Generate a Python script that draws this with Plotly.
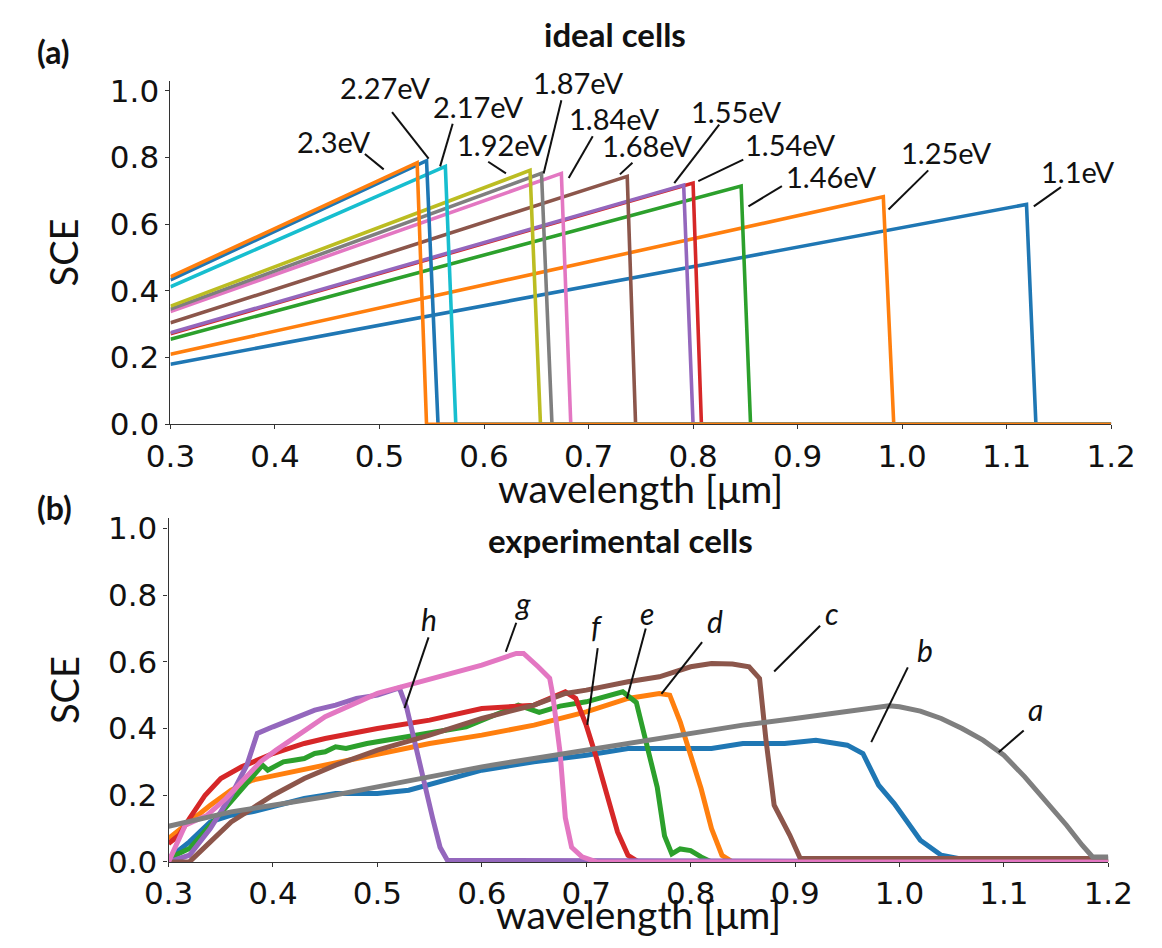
import plotly.graph_objects as go

# ---------------- data: (a) ideal cells ----------------
ideal_labels = ["1.1eV", "1.25eV", "1.46eV", "1.54eV", "1.55eV", "1.68eV",
                "1.84eV", "1.87eV", "1.92eV", "2.17eV", "2.27eV", "2.3eV"]
ideal_peak_x = [1.119, 0.982, 0.846, 0.800, 0.791, 0.737, 0.674, 0.655, 0.644, 0.563, 0.545, 0.536]
ideal_zero_x = [1.128, 0.992, 0.855, 0.808, 0.800, 0.745, 0.683, 0.665, 0.654, 0.573, 0.556, 0.545]
ideal_start_y = [0.180, 0.210, 0.255, 0.271, 0.274, 0.304, 0.338, 0.345, 0.354, 0.412, 0.433, 0.442]
ideal_peak_y = [0.659, 0.682, 0.714, 0.723, 0.717, 0.743, 0.752, 0.752, 0.761, 0.773, 0.790, 0.784]
x_start = 0.3
x_end = 1.2

# ---------------- data: (b) experimental cells ----------------
exp_a_x = [0.30, 0.33, 0.36, 0.40, 0.45, 0.50, 0.55, 0.60, 0.65, 0.70, 0.75, 0.80, 0.85, 0.90, 0.95,
           0.975, 0.99, 1.00, 1.02, 1.04, 1.06, 1.08, 1.10, 1.12, 1.14, 1.16, 1.175, 1.185, 1.20]
exp_a_y = [0.107, 0.13, 0.15, 0.17, 0.195, 0.225, 0.255, 0.285, 0.31, 0.335, 0.36, 0.385, 0.41, 0.43, 0.452,
           0.462, 0.468, 0.465, 0.452, 0.43, 0.40, 0.365, 0.32, 0.255, 0.185, 0.11, 0.05, 0.015, 0.015]

exp_b_x = [0.30, 0.32, 0.34, 0.36, 0.38, 0.40, 0.43, 0.46, 0.50, 0.53, 0.56, 0.60, 0.65, 0.70, 0.74,
           0.78, 0.82, 0.85, 0.89, 0.92, 0.95, 0.965, 0.98, 0.995, 1.02, 1.04, 1.06, 1.20]
exp_b_y = [0.01, 0.06, 0.12, 0.14, 0.15, 0.165, 0.19, 0.205, 0.205, 0.215, 0.24, 0.275, 0.30, 0.32, 0.34,
           0.34, 0.34, 0.355, 0.355, 0.365, 0.35, 0.325, 0.23, 0.175, 0.065, 0.02, 0.008, 0.008]

exp_c_x = [0.30, 0.32, 0.34, 0.36, 0.38, 0.40, 0.43, 0.46, 0.50, 0.55, 0.60, 0.65, 0.68, 0.70, 0.74,
           0.77, 0.80, 0.82, 0.84, 0.856, 0.866, 0.872, 0.88, 0.895, 0.905, 1.20]
exp_c_y = [0.0, 0.0, 0.06, 0.12, 0.16, 0.20, 0.25, 0.29, 0.335, 0.38, 0.43, 0.47, 0.505, 0.515, 0.54,
           0.555, 0.585, 0.595, 0.593, 0.585, 0.55, 0.37, 0.17, 0.08, 0.01, 0.01]

exp_d_x = [0.30, 0.32, 0.34, 0.36, 0.38, 0.40, 0.45, 0.50, 0.55, 0.60, 0.65, 0.70, 0.74, 0.77, 0.78,
           0.79, 0.80, 0.81, 0.82, 0.83, 0.84, 1.20]
exp_d_y = [0.07, 0.12, 0.17, 0.215, 0.245, 0.258, 0.29, 0.325, 0.355, 0.38, 0.41, 0.45, 0.49, 0.505, 0.50,
           0.42, 0.32, 0.22, 0.10, 0.02, 0.0, 0.0]

exp_e_x = [0.30, 0.32, 0.34, 0.36, 0.38, 0.39, 0.395, 0.41, 0.42, 0.43, 0.44, 0.45, 0.46, 0.47, 0.49,
           0.50, 0.52, 0.55, 0.585, 0.62, 0.635, 0.655, 0.675, 0.70, 0.72, 0.735, 0.748, 0.757, 0.768,
           0.775, 0.782, 0.79, 0.80, 0.81, 0.82, 1.20]
exp_e_y = [0.01, 0.04, 0.11, 0.18, 0.25, 0.29, 0.275, 0.30, 0.305, 0.31, 0.325, 0.33, 0.345, 0.34, 0.355,
           0.36, 0.37, 0.385, 0.405, 0.45, 0.47, 0.448, 0.467, 0.48, 0.495, 0.51, 0.478, 0.37, 0.224,
           0.078, 0.024, 0.039, 0.034, 0.015, 0.0, 0.0]

exp_f_x = [0.30, 0.31, 0.32, 0.335, 0.35, 0.37, 0.40, 0.43, 0.45, 0.50, 0.55, 0.60, 0.65, 0.68, 0.69,
           0.70, 0.71, 0.72, 0.73, 0.74, 0.75, 1.20]
exp_f_y = [0.055, 0.08, 0.13, 0.20, 0.25, 0.285, 0.325, 0.355, 0.37, 0.40, 0.425, 0.46, 0.47, 0.51, 0.49,
           0.41, 0.31, 0.20, 0.09, 0.02, 0.0, 0.0]

exp_g_x = [0.30, 0.316, 0.337, 0.355, 0.373, 0.388, 0.403, 0.428, 0.45, 0.50, 0.55, 0.60, 0.633, 0.64,
           0.654, 0.665, 0.668, 0.675, 0.68, 0.686, 0.696, 0.71, 1.20]
exp_g_y = [0.0, 0.11, 0.14, 0.19, 0.25, 0.30, 0.335, 0.39, 0.435, 0.505, 0.546, 0.59, 0.625, 0.625,
           0.585, 0.551, 0.50, 0.327, 0.132, 0.044, 0.015, 0.0, 0.0]

exp_h_x = [0.30, 0.32, 0.34, 0.36, 0.375, 0.385, 0.40, 0.42, 0.44, 0.46, 0.48, 0.50, 0.521, 0.528,
           0.535, 0.546, 0.553, 0.56, 0.567, 1.20]
exp_h_y = [0.0, 0.02, 0.10, 0.20, 0.29, 0.385, 0.405, 0.43, 0.455, 0.47, 0.49, 0.50, 0.522, 0.463,
           0.366, 0.229, 0.13, 0.044, 0.005, 0.0]

exp_labels = ["a", "b", "c", "d", "e", "f", "g", "h"]

x_ticks = [0.3, 0.4, 0.5, 0.6, 0.7, 0.8, 0.9, 1.0, 1.1, 1.2]
y_ticks = [0.0, 0.2, 0.4, 0.6, 0.8, 1.0]

# ---------------- styles ----------------
C = {"C0": "#1f77b4", "C1": "#ff7f0e", "C2": "#2ca02c", "C3": "#d62728", "C4": "#9467bd",
     "C5": "#8c564b", "C6": "#e377c2", "C7": "#7f7f7f", "C8": "#bcbd22", "C9": "#17becf"}
ideal_colors = [C["C0"], C["C1"], C["C2"], C["C3"], C["C4"], C["C5"],
                C["C6"], C["C7"], C["C8"], C["C9"], C["C0"], C["C1"]]
exp_series = {
    "b": (exp_b_x, exp_b_y, C["C0"]),
    "d": (exp_d_x, exp_d_y, C["C1"]),
    "e": (exp_e_x, exp_e_y, C["C2"]),
    "f": (exp_f_x, exp_f_y, C["C3"]),
    "h": (exp_h_x, exp_h_y, C["C4"]),
    "c": (exp_c_x, exp_c_y, C["C5"]),
    "g": (exp_g_x, exp_g_y, C["C6"]),
    "a": (exp_a_x, exp_a_y, C["C7"]),
}

W, H = 1162, 948
TEXT_FONT = "Lato"
TICK_FONT = "DejaVu Sans"

fig = go.Figure()

# (a) ideal cells
for lab, px_, zx, sy, py_, col in zip(ideal_labels, ideal_peak_x, ideal_zero_x,
                                      ideal_start_y, ideal_peak_y, ideal_colors):
    fig.add_trace(go.Scatter(x=[x_start, px_, zx, x_end], y=[sy, py_, 0.0, 0.0],
                             mode="lines", line=dict(color=col, width=3.6),
                             name=lab, showlegend=False, xaxis="x", yaxis="y",
                             hoverinfo="skip"))

# (b) experimental cells
for lab, (xs, ys, col) in exp_series.items():
    fig.add_trace(go.Scatter(x=xs, y=ys, mode="lines", line=dict(color=col, width=5),
                             name=lab, showlegend=False, xaxis="x2", yaxis="y2",
                             hoverinfo="skip"))

# ---------------- annotations (layout positions) ----------------
top_label_pos = {
    "1.1eV": ((1.168, 0.758), (1.152, 0.711, 1.126, 0.653)),
    "1.25eV": ((1.042, 0.816), (1.025, 0.761, 0.987, 0.644)),
    "1.46eV": ((0.932, 0.743), (0.885, 0.714, 0.853, 0.653)),
    "1.54eV": ((0.893, 0.840), (0.848, 0.793, 0.805, 0.729)),
    "1.55eV": ((0.841, 0.939), (0.825, 0.898, 0.782, 0.723)),
    "1.68eV": ((0.756, 0.837), (0.742, 0.784, 0.730, 0.749)),
    "1.84eV": ((0.724, 0.918), (0.704, 0.863, 0.681, 0.738)),
    "1.87eV": ((0.690, 1.023), (0.674, 0.971, 0.657, 0.752)),
    "1.92eV": ((0.617, 0.840), (0.604, 0.787, 0.621, 0.752)),
    "2.17eV": ((0.594, 0.953), (0.570, 0.901, 0.558, 0.773)),
    "2.27eV": ((0.505, 1.009), (0.512, 0.936, 0.547, 0.796)),
    "2.3eV": ((0.4566, 0.848), (0.486, 0.810, 0.504, 0.764)),
}
bot_label_pos = {
    "a": ((1.130, 0.458), (1.119, 0.394, 1.095, 0.329)),
    "b": ((1.024, 0.636), (1.008, 0.583, 0.973, 0.359)),
    "c": ((0.935, 0.746), (0.924, 0.708, 0.880, 0.571)),
    "d": ((0.823, 0.723), (0.811, 0.659, 0.772, 0.504)),
    "e": ((0.758, 0.746), (0.757, 0.700, 0.739, 0.490)),
    "f": ((0.710, 0.706), (0.711, 0.641, 0.701, 0.411)),
    "g": ((0.639, 0.776), (0.633, 0.717, 0.623, 0.630)),
    "h": ((0.549, 0.729), (0.549, 0.673, 0.526, 0.461)),
}

annotations = []
shapes = []
for lab in ideal_labels:
    (tx, ty), (x0, y0, x1, y1) = top_label_pos[lab]
    annotations.append(dict(x=tx, y=ty, xref="x", yref="y", text=lab, showarrow=False,
                            xanchor="center", yanchor="middle",
                            font=dict(family=TEXT_FONT, size=29, color="#111")))
    shapes.append(dict(type="line", xref="x", yref="y", x0=x0, y0=y0, x1=x1, y1=y1,
                       line=dict(color="#111", width=2)))
for lab in exp_labels:
    (tx, ty), (x0, y0, x1, y1) = bot_label_pos[lab]
    annotations.append(dict(x=tx, y=ty, xref="x2", yref="y2", text="<i>%s</i>" % lab,
                            showarrow=False, xanchor="center", yanchor="middle",
                            font=dict(family=TEXT_FONT, size=30, color="#111")))
    shapes.append(dict(type="line", xref="x2", yref="y2", x0=x0, y0=y0, x1=x1, y1=y1,
                       line=dict(color="#111", width=2)))


def paper(px, py):
    return px / W, 1 - py / H


def add_text(px, py, text, size, bold=False, angle=0):
    x, y = paper(px, py)
    annotations.append(dict(x=x, y=y, xref="paper", yref="paper",
                            text="<b>%s</b>" % text if bold else text, showarrow=False,
                            xanchor="center", yanchor="middle", textangle=angle,
                            font=dict(family=TEXT_FONT, size=size, color="#111")))


add_text(30, 45, "(a)", 32, bold=True)
add_text(31, 514, "(b)", 32, bold=True)
add_text(617, 27, "ideal cells", 33, bold=True)
add_text(622, 547, "experimental cells", 33, bold=True)
add_text(40, 251, "SCE", 38, angle=-90)
add_text(40, 701, "SCE", 38, angle=-90)
add_text(643, 494, "wavelength [μm]", 39)
add_text(641, 932, "wavelength [μm]", 39)

axis_common = dict(showgrid=False, zeroline=False, showline=True, linecolor="#333",
                   linewidth=1.2, ticks="outside", ticklen=4, tickcolor="#333",
                   tickfont=dict(family=TICK_FONT, size=31, color="#111"))

layout = dict(
    width=W, height=H,
    margin=dict(l=0, r=0, t=0, b=0),
    paper_bgcolor="white", plot_bgcolor="white",
    showlegend=False,
    xaxis=dict(domain=[152 / W, 1135 / W], range=[x_start, x_end], anchor="y",
               tickvals=x_ticks, ticktext=["%.1f" % v for v in x_ticks], **axis_common),
    yaxis=dict(domain=[1 - 428 / H, 1 - 74.7 / H], range=[0, 1.03], anchor="x",
               tickvals=y_ticks, ticktext=["%.1f" % v for v in y_ticks], **axis_common),
    xaxis2=dict(domain=[150 / W, 1132 / W], range=[x_start, x_end], anchor="y2",
                tickvals=x_ticks, ticktext=["%.1f" % v for v in x_ticks], **axis_common),
    yaxis2=dict(domain=[1 - 878 / H, 1 - 524.7 / H], range=[0, 1.03], anchor="x2",
                tickvals=y_ticks, ticktext=["%.1f" % v for v in y_ticks], **axis_common),
    annotations=annotations,
    shapes=shapes,
)
fig.update_layout(**layout)

fig.write_html("out.html", config={"displayModeBar": False},
               post_script="document.body.style.margin='0';document.body.style.overflow='hidden';")
